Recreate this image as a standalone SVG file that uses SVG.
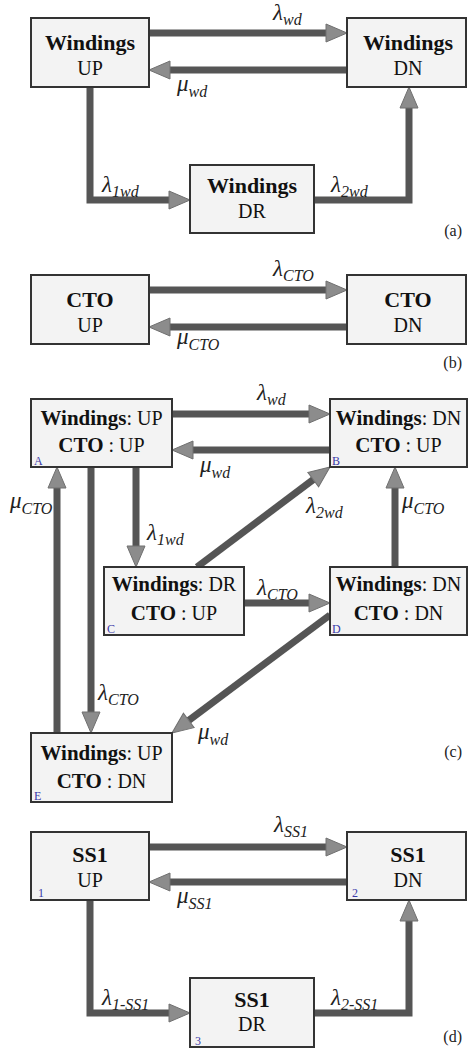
<svg xmlns="http://www.w3.org/2000/svg" width="468" height="1050" viewBox="0 0 468 1050" font-family="Liberation Serif, Times New Roman, serif">
<style>
.box{fill:#f3f3f3;stroke:#333;stroke-width:2}
.t{fill:#111;text-anchor:middle}
.b{font-weight:bold;font-size:22px}
.n{font-size:20px}
.nb{font-size:21px;font-weight:bold}
.nn{font-size:20px;font-weight:normal}
.id{font-size:12px;fill:#3a3aa8}
.g{font-style:italic;font-size:23px;fill:#222}
.s{font-size:16px}
.pl{font-size:16px;fill:#222;text-anchor:end}
.c{fill:none;stroke:#555;stroke-width:7;marker-end:url(#ah)}
</style>
<defs>
<marker id="ah" markerUnits="userSpaceOnUse" markerWidth="24" markerHeight="22" refX="0" refY="10" orient="auto" overflow="visible">
<path d="M0,1 L21,10 L0,19 Z" fill="#8c8c8c" stroke="#707070" stroke-width="1"/>
</marker>
</defs>
<rect width="468" height="1050" fill="#fff"/>

<g id="connectors">
<path class="c" d="M149,33 H326"/>
<path class="c" d="M347,70 H170"/>
<path class="c" d="M90,87 V200 H169"/>
<path class="c" d="M314,200 H409 V108"/>
<path class="c" d="M149,290 H326"/>
<path class="c" d="M347,327 H170"/>
<path class="c" d="M172,414 H309"/>
<path class="c" d="M330,450 H193"/>
<path class="c" d="M136,467 V546"/>
<path class="c" d="M91,467 V712"/>
<path class="c" d="M57,733 V488"/>
<path class="c" d="M244,603 H309"/>
<path class="c" d="M395,567 V488"/>
<path class="c" d="M197,567 L313.2,479.6"/>
<path class="c" d="M330,615 L188.8,720.4"/>
<path class="c" d="M149,847 H326"/>
<path class="c" d="M347,882 H170"/>
<path class="c" d="M90,900 V1013 H169"/>
<path class="c" d="M314,1013 H409 V921"/>
</g>

<g id="labels">
<text class="g" x="273" y="20">λ<tspan class="s" dy="5">wd</tspan></text>
<text class="g" x="177" y="91">μ<tspan class="s" dy="6">wd</tspan></text>
<text class="g" x="102" y="192">λ<tspan class="s" dy="5">1wd</tspan></text>
<text class="g" x="331" y="192">λ<tspan class="s" dy="5">2wd</tspan></text>
<text class="g" x="273" y="276">λ<tspan class="s" dy="5">CTO</tspan></text>
<text class="g" x="177" y="344">μ<tspan class="s" dy="6">CTO</tspan></text>
<text class="g" x="257" y="400">λ<tspan class="s" dy="5">wd</tspan></text>
<text class="g" x="200" y="472">μ<tspan class="s" dy="6">wd</tspan></text>
<text class="g" x="147" y="540">λ<tspan class="s" dy="5">1wd</tspan></text>
<text class="g" x="10" y="508">μ<tspan class="s" dy="6">CTO</tspan></text>
<text class="g" x="306" y="513">λ<tspan class="s" dy="5">2wd</tspan></text>
<text class="g" x="402" y="508">μ<tspan class="s" dy="6">CTO</tspan></text>
<text class="g" x="257" y="595">λ<tspan class="s" dy="5">CTO</tspan></text>
<text class="g" x="98" y="700">λ<tspan class="s" dy="5">CTO</tspan></text>
<text class="g" x="198" y="739">μ<tspan class="s" dy="6">wd</tspan></text>
<text class="g" x="274" y="832">λ<tspan class="s" dy="5">SS1</tspan></text>
<text class="g" x="177" y="903">μ<tspan class="s" dy="6">SS1</tspan></text>
<text class="g" x="102" y="1005">λ<tspan class="s" dy="5">1-SS1</tspan></text>
<text class="g" x="331" y="1005">λ<tspan class="s" dy="5">2-SS1</tspan></text>
<text class="pl" x="462" y="236">(a)</text>
<text class="pl" x="462" y="368">(b)</text>
<text class="pl" x="462" y="757">(c)</text>
<text class="pl" x="462" y="1042">(d)</text>
</g>

<g id="a_up"><rect class="box" x="31" y="18" width="118" height="69"/>
<text class="t b" x="90" y="50">Windings</text><text class="t n" x="90" y="75">UP</text></g>
<g id="a_dn"><rect class="box" x="347" y="18" width="119" height="69"/>
<text class="t b" x="408" y="50">Windings</text><text class="t n" x="408" y="75">DN</text></g>
<g id="a_dr"><rect class="box" x="190" y="165" width="124" height="68"/>
<text class="t b" x="252" y="193">Windings</text><text class="t n" x="252" y="218">DR</text></g>

<g id="b_up"><rect class="box" x="31" y="275" width="118" height="69"/>
<text class="t b" x="90" y="307">CTO</text><text class="t n" x="90" y="332">UP</text></g>
<g id="b_dn"><rect class="box" x="347" y="275" width="119" height="69"/>
<text class="t b" x="408" y="307">CTO</text><text class="t n" x="408" y="332">DN</text></g>

<g id="c_A"><rect class="box" x="31" y="399" width="141" height="68"/>
<text class="t" x="101.5" y="425"><tspan class="nb">Windings</tspan><tspan class="nn">: UP</tspan></text>
<text class="t" x="101.5" y="452"><tspan class="nb">CTO</tspan><tspan class="nn"> : UP</tspan></text>
<text class="id" x="34" y="465">A</text></g>
<g id="c_B"><rect class="box" x="330" y="399" width="137" height="68"/>
<text class="t" x="398.5" y="425"><tspan class="nb">Windings</tspan><tspan class="nn">: DN</tspan></text>
<text class="t" x="398.5" y="452"><tspan class="nb">CTO</tspan><tspan class="nn"> : UP</tspan></text>
<text class="id" x="332" y="465">B</text></g>
<g id="c_C"><rect class="box" x="104" y="567" width="140" height="68"/>
<text class="t" x="174" y="591"><tspan class="nb">Windings</tspan><tspan class="nn">: DR</tspan></text>
<text class="t" x="174" y="620"><tspan class="nb">CTO</tspan><tspan class="nn"> : UP</tspan></text>
<text class="id" x="107" y="633">C</text></g>
<g id="c_D"><rect class="box" x="330" y="567" width="137" height="68"/>
<text class="t" x="398.5" y="591"><tspan class="nb">Windings</tspan><tspan class="nn">: DN</tspan></text>
<text class="t" x="398.5" y="620"><tspan class="nb">CTO</tspan><tspan class="nn"> : DN</tspan></text>
<text class="id" x="332" y="633">D</text></g>
<g id="c_E"><rect class="box" x="31" y="733" width="141" height="69"/>
<text class="t" x="101.5" y="760"><tspan class="nb">Windings</tspan><tspan class="nn">: UP</tspan></text>
<text class="t" x="101.5" y="788"><tspan class="nb">CTO</tspan><tspan class="nn"> : DN</tspan></text>
<text class="id" x="34" y="800">E</text></g>

<g id="d_1"><rect class="box" x="31" y="832" width="118" height="68"/>
<text class="t b" x="90" y="862">SS1</text><text class="t n" x="90" y="887">UP</text>
<text class="id" x="38" y="897">1</text></g>
<g id="d_2"><rect class="box" x="347" y="832" width="119" height="68"/>
<text class="t b" x="408" y="862">SS1</text><text class="t n" x="408" y="887">DN</text>
<text class="id" x="352" y="897">2</text></g>
<g id="d_3"><rect class="box" x="190" y="978" width="124" height="69"/>
<text class="t b" x="252" y="1007">SS1</text><text class="t n" x="252" y="1031">DR</text>
<text class="id" x="195" y="1045">3</text></g>
</svg>
